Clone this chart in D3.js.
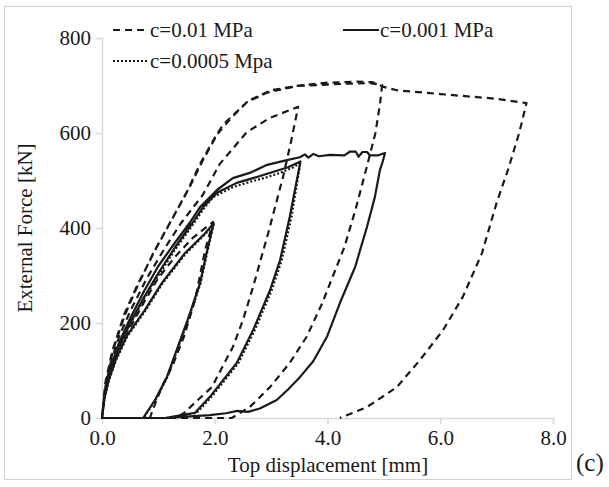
<!DOCTYPE html>
<html>
<head>
<meta charset="utf-8">
<script src="https://cdn.jsdelivr.net/npm/d3@7"></script>
<style>
  body { margin: 0; background: #fff; }
  svg { display: block; }
  text { font-family: "Liberation Serif", "Times New Roman", serif; fill: #1a1a1a; }
</style>
</head>
<body>
<svg id="chart" width="609" height="487"></svg>
<script>
// ---- data (displacement mm, force kN) ----
const xTicks = [0, 2, 4, 6, 8];
const yTicks = [0, 200, 400, 600, 800];
const seriesNames = ["c=0.01 MPa", "c=0.001 MPa", "c=0.0005 Mpa"];

// c = 0.01 MPa (dashed) runs: load from origin to target, then unload
const dashedRun1 = [[0,0],[0.05,50],[0.15,95],[0.3,140],[0.5,190],[0.75,245],[1.0,295],[1.3,340],[1.6,378],[1.85,402],[1.97,413],
  [1.83,354],[1.65,248],[1.45,170],[1.25,110],[1.06,65],[0.9,17],[0.85,0]];
const dashedRun2 = [[0,0],[0.05,60],[0.15,115],[0.3,170],[0.5,225],[0.8,295],[1.1,355],[1.4,410],[1.79,470],[2.09,535],[2.57,602],[2.98,632],[3.48,655],
  [3.35,580],[3.21,507],[2.95,390],[2.68,276],[2.5,206],[2.32,149],[2.18,118],[1.95,65],[1.7,38],[1.45,10],[1.3,0]];
const dashedRun3 = [[0,0],[0.08,80],[0.2,145],[0.4,215],[0.6,270],[0.9,345],[1.2,410],[1.5,475],[1.74,535],[2.0,590],[2.15,618],[2.57,665],[2.93,685],[3.46,699],[3.99,702],[4.4,704],[4.75,705],[4.97,701],
  [4.93,660],[4.85,600],[4.7,530],[4.5,440],[4.3,360],[4.1,300],[3.9,240],[3.63,171],[3.33,116],[2.98,65],[2.62,23],[2.3,0]];
const dashedRun4 = [[0,0],[0.06,75],[0.18,140],[0.4,220],[0.62,278],[0.95,355],[1.25,420],[1.55,485],[1.8,545],[2.05,598],[2.3,633],[2.6,668],[3.0,690],[3.5,700],[4.0,706],[4.5,708],[4.8,707],[5.0,697],[5.23,690],[6.0,682],[7.0,672],[7.53,663],
  [7.4,600],[7.2,522],[7.0,453],[6.74,347],[6.4,255],[6.05,185],[5.64,122],[5.23,65],[4.7,23],[4.22,0]];

// c = 0.001 MPa (solid)
const solidRun1 = [[0,0],[0.04,40],[0.12,80],[0.25,125],[0.45,175],[0.76,227],[1.06,284],[1.47,347],[1.83,389],[1.98,410],
  [1.85,345],[1.74,284],[1.5,200],[1.15,86],[0.95,40],[0.73,0]];
const solidRun2 = [[0,0],[0.05,50],[0.15,100],[0.3,150],[0.5,200],[0.75,255],[1.0,305],[1.3,360],[1.6,410],[1.8,445],[2.04,474],[2.39,495],[2.68,505],[3.03,518],[3.3,528],[3.52,540],
  [3.33,423],[3.16,333],[2.98,269],[2.68,185],[2.39,116],[1.91,44],[1.65,11],[1.12,0]];
const solidRun3 = [[0,0],[0.05,55],[0.15,105],[0.3,158],[0.5,210],[0.75,268],[1.0,320],[1.3,370],[1.55,410],[1.74,444],[2.04,480],[2.32,505],[2.62,516],[2.93,533],[3.28,543],[3.51,549],[3.6,555],[3.66,548],[3.75,556],[3.85,551],[4.04,554],[4.3,553],[4.4,561],[4.5,561],[4.55,550],[4.62,560],[4.7,560],[4.75,553],[4.9,553],[5.02,558],
  [4.98,540],[4.93,522],[4.84,465],[4.7,402],[4.49,318],[4.22,242],[3.99,171],[3.75,120],[3.51,86],[3.3,60],[3.1,38],[2.8,20],[2.59,13],[2.4,15],[2.2,10],[1.91,6],[1.5,3],[1.15,0]];

// c = 0.0005 Mpa (dotted)
const dottedRun1 = [[0,0],[0.04,38],[0.12,78],[0.25,122],[0.45,172],[0.76,224],[1.06,281],[1.47,344],[1.83,387],[1.98,408],
  [1.86,345],[1.75,284],[1.51,200],[1.16,86],[0.96,40],[0.74,0]];
const dottedRun2 = [[0,0],[0.05,48],[0.15,97],[0.3,147],[0.5,197],[0.75,252],[1.0,300],[1.3,355],[1.6,405],[1.8,440],[1.97,465],[2.32,486],[2.62,497],[2.93,507],[3.16,516],[3.4,528],[3.52,538],
  [3.36,423],[3.19,333],[3.01,269],[2.71,185],[2.42,116],[1.94,44],[1.68,11],[1.14,0]];

// ---- drawing ----
const svg = d3.select("#chart");
const x = d3.scaleLinear().domain([0, 8]).range([102, 553]);
const y = d3.scaleLinear().domain([0, 800]).range([418, 38]);
const axisColor = "#d9d9d9";
const FS = 21;

// outer frame
svg.append("rect").attr("x", 4.5).attr("y", 6.5).attr("width", 567).attr("height", 473)
  .attr("fill", "none").attr("stroke", "#d0d0d0").attr("stroke-width", 1);

// x axis
const xAxis = svg.append("g").attr("transform", `translate(0,${y(0)})`)
  .call(d3.axisBottom(x).tickValues(xTicks).tickSize(6).tickPadding(6).tickFormat(d3.format(".1f")));
xAxis.select(".domain").attr("stroke", axisColor).attr("stroke-width", 1.5);
xAxis.selectAll(".tick line").attr("stroke", axisColor).attr("stroke-width", 1.5);
xAxis.selectAll(".tick text").attr("font-size", FS).attr("font-family", "Liberation Serif").attr("fill", "#1a1a1a");

// y axis
const yAxis = svg.append("g").attr("transform", `translate(${x(0)},0)`)
  .call(d3.axisLeft(y).tickValues(yTicks).tickSize(6).tickPadding(5).tickFormat(d3.format("d")));
yAxis.select(".domain").attr("stroke", axisColor).attr("stroke-width", 1.5);
yAxis.selectAll(".tick line").attr("stroke", axisColor).attr("stroke-width", 1.5);
yAxis.selectAll(".tick text").attr("font-size", FS).attr("font-family", "Liberation Serif").attr("fill", "#1a1a1a");

// titles
svg.append("text").attr("x", 328).attr("y", 472).attr("text-anchor", "middle")
  .attr("font-size", FS).text("Top displacement [mm]");
svg.append("text").attr("transform", `translate(32,${y(400)}) rotate(-90)`).attr("text-anchor", "middle")
  .attr("font-size", FS).text("External Force [kN]");
svg.append("text").attr("x", 576).attr("y", 471).attr("text-anchor", "start")
  .attr("font-size", 25).text("(c)");

const line = d3.line().x(d => x(d[0])).y(d => y(d[1]));
const styles = [
  { data: [].concat(dashedRun1, dashedRun2, dashedRun3, dashedRun4), dash: "7,5", width: 2.2 },
  { data: [].concat(solidRun1, solidRun2, solidRun3), dash: null, width: 2.2 },
  { data: [].concat(dottedRun1, dottedRun2), dash: "2,2", width: 2.2 }
];
styles.forEach(s => {
  svg.append("path").datum(s.data).attr("d", line)
    .attr("fill", "none").attr("stroke", "#1a1a1a").attr("stroke-width", s.width)
    .attr("stroke-linejoin", "round")
    .attr("stroke-dasharray", s.dash);
});

// legend
const legendItems = [
  { name: seriesNames[0], dash: "7,5", x: 113, y: 30 },
  { name: seriesNames[1], dash: null, x: 343, y: 30 },
  { name: seriesNames[2], dash: "2,2", x: 113, y: 61 }
];
legendItems.forEach(it => {
  svg.append("line").attr("x1", it.x).attr("x2", it.x + 36).attr("y1", it.y).attr("y2", it.y)
    .attr("stroke", "#1a1a1a").attr("stroke-width", 2.2).attr("stroke-dasharray", it.dash);
  svg.append("text").attr("x", it.x + 37).attr("y", it.y + 7).attr("font-size", FS).text(it.name);
});
</script>
</body>
</html>
